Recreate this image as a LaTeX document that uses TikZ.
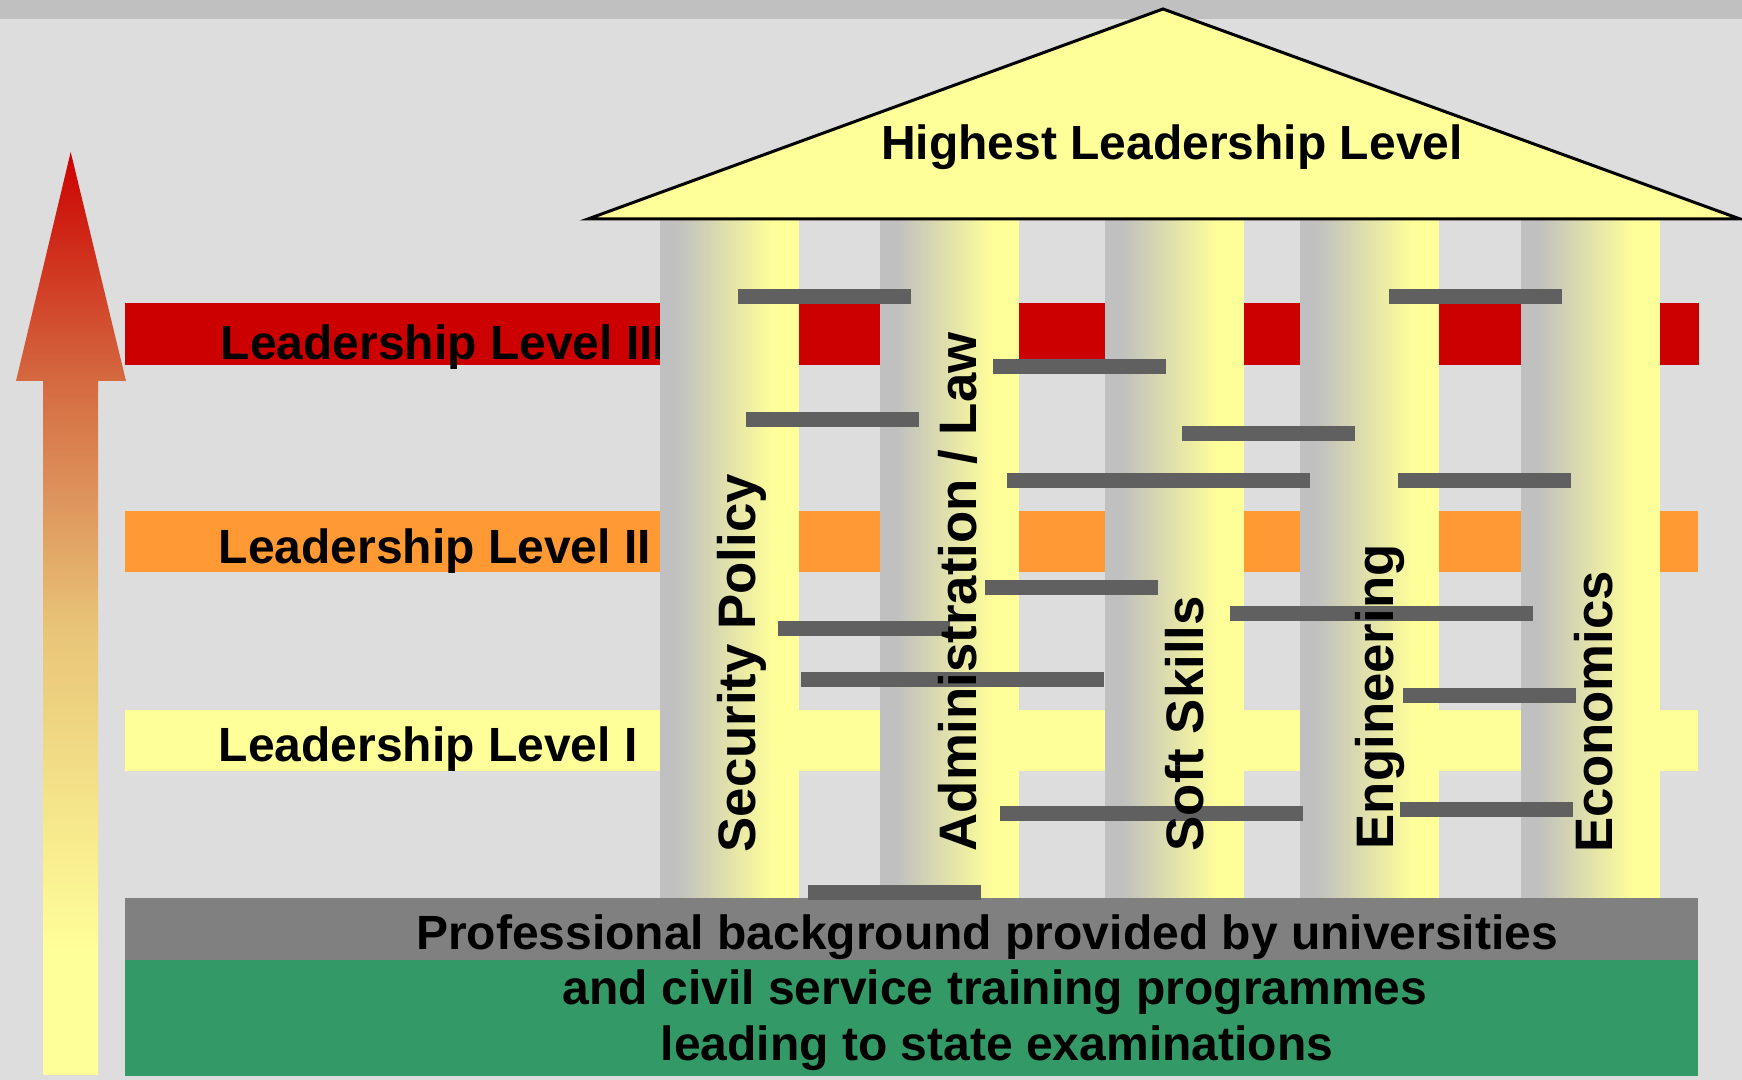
\documentclass[tikz,border=0pt]{standalone}
\usepackage{fontspec}
\setmainfont{Liberation Sans}
\usetikzlibrary{calc}

\definecolor{bgray}{RGB}{221,221,221}
\definecolor{tgray}{RGB}{192,192,192}
\definecolor{clr1}{RGB}{204,0,0}
\definecolor{clr2}{RGB}{255,153,51}
\definecolor{clr3}{RGB}{255,255,153}
\definecolor{lgreen}{RGB}{51,153,102}
\definecolor{dgray}{RGB}{128,128,128}
\definecolor{bargray}{RGB}{96,96,96}
\definecolor{arr1}{RGB}{212,106,64}
\definecolor{arr2}{RGB}{232,196,120}

\def\labfont{\fontsize{13.65}{15.8}\bfseries\selectfont}
\def\colfont{\fontsize{15}{17}\bfseries\selectfont}

\begin{document}
\begin{tikzpicture}[x=0.01cm,y=-0.01cm,
  lab/.style={font=\labfont,inner sep=0pt},
  collab/.style={font=\colfont,inner sep=0pt,rotate=90,anchor=base west}]

    \useasboundingbox (0,0) rectangle (1742,1080);
    \fill[bgray] (0,0) rectangle (1742,1080);
    \fill[tgray] (0,0) rectangle (1742,19);

    % rising arrow
    \begin{scope}
      \clip (43,1075) -- (43,381) -- (16,381) -- (70.7,152) -- (126,381)
        -- (98,381) -- (98,1075) -- cycle;
      \shade[top color=clr1,bottom color=arr1] (10,150) rectangle (130,382);
      \shade[top color=arr1,bottom color=arr2] (10,381) rectangle (130,628);
      \shade[top color=arr2,bottom color=clr3] (10,627) rectangle (130,951);
      \fill[clr3] (10,950) rectangle (130,1076);
    \end{scope}

    % levels
    \fill[clr1] (125,303) rectangle (1699,365);
    \fill[clr2] (125,511) rectangle (1698,572);
    \fill[clr3] (125,710) rectangle (1698,771);
    \node[lab,anchor=base west] (lev3) at (220,360) {Leadership Level III};
    \node[lab,anchor=base west] (lev2) at (218,564) {Leadership Level II};
    \node[lab,anchor=base west] (lev1) at (218,762) {Leadership Level I};

    % base
    \fill[dgray] (125,898) rectangle (1698,960);
    \fill[lgreen] (125,960) rectangle (1698,1076);
    \node[lab,anchor=base] (base1) at (987,950) {Professional background provided by universities};
    \node[lab,anchor=base] (base2) at (995,1005) {and civil service training programmes};
    \node[lab,anchor=base] (base3) at (997,1061) {leading to state examinations};

    % columns
    \foreach \cx in {660,880,1105,1300,1521}{
      \fill[tgray] (\cx,219) rectangle (\cx+18,898);
      \shade[left color=tgray,right color=clr3] (\cx+17,219) rectangle (\cx+114,898);
      \fill[clr3] (\cx+113,219) rectangle (\cx+139,898);
    }

    % bars
    \foreach \xa/\xb/\ya in {738/911/289, 1389/1562/289, 993/1166/359,
      746/919/412, 1182/1355/426, 1007/1310/473, 1398/1571/473,
      985/1158/580, 778/950/621, 1230/1533/606, 801/1104/672,
      1403/1576/688, 1000/1303/806, 1400/1573/802, 808/981/885}{
      \fill[bargray] (\xa,\ya) rectangle (\xb,\ya+15);
    }

    \node[collab] (col1) at (755,853) {Security Policy};
    \node[collab] (col2) at (976,852) {Administration / Law};
    \node[collab] (col3) at (1203,852) {Soft Skills};
    \node[collab] (col4) at (1393,850) {Engineering};
    \node[collab] (col5) at (1612,853) {Economics};

    % roof
    \draw[fill=clr3,line width=0.03cm,line join=miter] (588,219) -- (1163,9) -- (1740,219) -- cycle;
    \node[lab,anchor=base] (roof) at (1172,160) {Highest Leadership Level};

\end{tikzpicture}
\end{document}
